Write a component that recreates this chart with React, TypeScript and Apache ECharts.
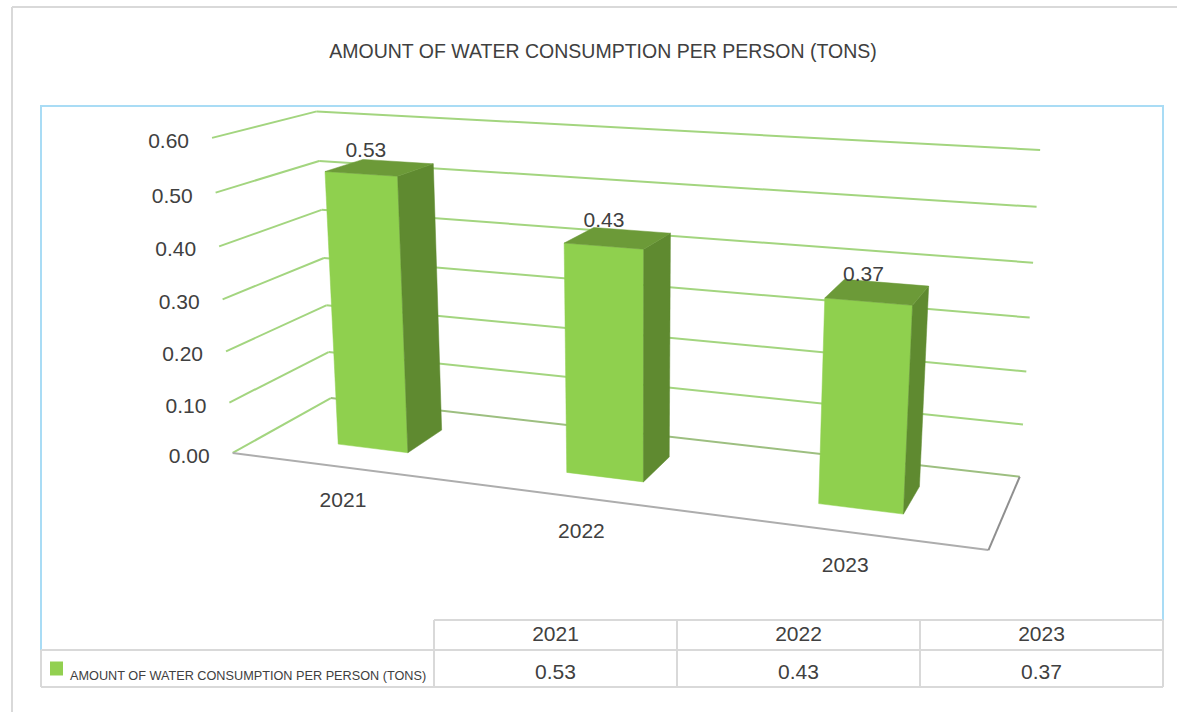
import React, { useEffect, useRef } from "react";
import * as echarts from "echarts";

const SERIES_NAME = "AMOUNT OF WATER CONSUMPTION PER PERSON (TONS)";
const categories = ["2021", "2022", "2023"];
const consumption = [0.53, 0.43, 0.37];
const tickValues = [0, 0.1, 0.2, 0.3, 0.4, 0.5, 0.6];

const FONT = '"Liberation Sans", Arial, sans-serif';
const TEXT = "#404040";
const GRID_LINE = "#a3d57f";
const FLOOR_BACK = "#9dbf80";
const FLOOR_FRONT = "#adadad";
const FLOOR_RIGHT = "#8f8f8f";
const TABLE_LINE = "#d9d9d9";
const PANEL_LINE = "#a9dcf5";
const FRONT = "#8fd04e";
const SIDE = "#5f8a30";
const TOP = "#6c9a38";

// Flat cartesian plane holding the scales; its points are then lifted into the box below.
const PLANE = { left: 100, top: 100, width: 900, height: 400 };

// Calibration of the oblique box: [across, up, depth, screenX, screenY].
const calibration = [
  [0, 0, 0, 232, 452], [0, 1 / 6, 0, 229, 403], [0, 2 / 6, 0, 226, 352], [0, 3 / 6, 0, 223, 300],
  [0, 4 / 6, 0, 219, 246], [0, 5 / 6, 0, 216, 193], [0, 1, 0, 212, 138],
  [0, 0, 1, 332, 398], [0, 1 / 6, 1, 328, 352], [0, 2 / 6, 1, 326, 305],
  [0, 5 / 6, 1, 319, 161], [0, 1, 1, 317, 111],
  [1, 0, 1, 1019, 477], [1, 1 / 6, 1, 1023, 425], [1, 2 / 6, 1, 1027, 372], [1, 3 / 6, 1, 1030, 318],
  [1, 4 / 6, 1, 1033, 263], [1, 5 / 6, 1, 1036, 207], [1, 1, 1, 1040, 149],
  [1, 0, 0, 989, 549],
];

// Least-squares fit of the 3D-to-screen projective map.
function solveProjection(rows: number[][]) {
  const n = 11;
  const A = Array.from({ length: n }, () => new Array(n + 1).fill(0));
  const add = (r: number[], b: number) => {
    for (let i = 0; i < n; i++) {
      for (let j = 0; j < n; j++) A[i][j] += r[i] * r[j];
      A[i][n] += r[i] * b;
    }
  };
  for (const [u, v, w, x, y] of rows) {
    add([u, v, w, 1, 0, 0, 0, 0, -x * u, -x * v, -x * w], x);
    add([0, 0, 0, 0, u, v, w, 1, -y * u, -y * v, -y * w], y);
  }
  for (let c = 0; c < n; c++) {
    let best = c;
    for (let r = c + 1; r < n; r++) if (Math.abs(A[r][c]) > Math.abs(A[best][c])) best = r;
    [A[c], A[best]] = [A[best], A[c]];
    for (let r = 0; r < n; r++) {
      if (r === c) continue;
      const f = A[r][c] / A[c][c];
      for (let k = c; k <= n; k++) A[r][k] -= f * A[c][k];
    }
  }
  return A.map((row, i) => row[n] / row[i]);
}

const P = solveProjection(calibration);
const project = (u: number, v: number, w: number): number[] => {
  const d = P[8] * u + P[9] * v + P[10] * w + 1;
  return [(P[0] * u + P[1] * v + P[2] * w + P[3]) / d, (P[4] * u + P[5] * v + P[6] * w + P[7]) / d];
};
const toBox = (pt: number[]) => [(pt[0] - PLANE.left) / PLANE.width, (PLANE.top + PLANE.height - pt[1]) / PLANE.height];

const BAR_HALF = 0.0525;
const DEPTH_FRONT = 0.305;
const DEPTH_BACK = 0.695;

function renderWall(_: any, api: any) {
  const value = api.value(1) as number;
  const [, v] = toBox(api.coord([0, value]));
  const a = project(0, v, 0), b = project(0, v, 1), c = project(1, v, 1);
  const stroke = (points: number[][], color: string) => ({
    type: "polyline", shape: { points }, style: { stroke: color, lineWidth: 2, fill: "none" },
  });
  const isFloor = value === 0;
  return {
    type: "group",
    children: [
      stroke([a, b], GRID_LINE),
      stroke([b, c], isFloor ? FLOOR_BACK : GRID_LINE),
      ...(isFloor ? [stroke([a, project(1, 0, 0)], FLOOR_FRONT), stroke([project(1, 0, 0), c], FLOOR_RIGHT)] : []),
      { type: "text", style: { text: value.toFixed(2), x: a[0] - 23, y: a[1] + 2.5, fill: TEXT, fontFamily: FONT, fontSize: 21, align: "right", verticalAlign: "middle" } },
    ],
  };
}

function renderBar(_: any, api: any) {
  const i = api.value(0) as number;
  const [uc, v] = toBox(api.coord([i, api.value(1)]));
  const l = uc - BAR_HALF, r = uc + BAR_HALF;
  const fb = [l, r].map((u) => project(u, 0, DEPTH_FRONT));
  const ft = [l, r].map((u) => project(u, v, DEPTH_FRONT));
  const bb = project(r, 0, DEPTH_BACK);
  const bt = [l, r].map((u) => project(u, v, DEPTH_BACK));
  const topCentre = project(uc, v, (DEPTH_FRONT + DEPTH_BACK) / 2);
  const base = project(uc, 0, 0);
  const face = (points: number[][], fill: string) => ({ type: "polygon", shape: { points }, style: { fill, stroke: fill, lineWidth: 0.5 } });
  const label = (text: string, x: number, y: number) => ({
    type: "text",
    style: { text, x, y, fill: TEXT, fontFamily: FONT, fontSize: 21, align: "center", verticalAlign: "middle" },
  });
  return {
    type: "group",
    children: [
      face([fb[0], fb[1], ft[1], ft[0]], FRONT),
      face([fb[1], bb, bt[1], ft[1]], SIDE),
      face([ft[0], ft[1], bt[1], bt[0]], TOP),
      label(consumption[i].toFixed(2), topCentre[0] - 14, topCentre[1] - 18.5),
      label(categories[i], base[0] - 0.5, base[1] + 32.5),
    ],
  };
}

// Page frame, chart panel and the data table under the plot.
function tableGraphics() {
  const cols = [434, 677, 920, 1163];
  const line = (x1: number, y1: number, x2: number, y2: number) => ({
    type: "line", shape: { x1, y1, x2, y2 }, style: { stroke: TABLE_LINE, lineWidth: 2 },
  });
  const cell = (text: string, x: number, y: number) => ({
    type: "text", style: { text, x, y, fill: TEXT, font: `21px ${FONT}`, align: "center", verticalAlign: "middle" },
  });
  const out: any[] = [
    line(12, 7, 1177, 7), line(12, 7, 12, 712),
    { type: "polyline", shape: { points: [[41, 650], [41, 106], [1163, 106], [1163, 620]] }, style: { stroke: PANEL_LINE, lineWidth: 2, fill: "none" } },
    line(434, 620, 1163, 620), line(41, 650, 1163, 650), line(41, 687, 1163, 687), line(41, 650, 41, 687),
  ];
  cols.forEach((x) => out.push(line(x, 620, x, 687)));
  categories.forEach((c, i) => {
    const x = (cols[i] + cols[i + 1]) / 2;
    out.push(cell(c, x, 633.5));
    out.push(cell(consumption[i].toFixed(2), x, 671.5));
  });
  return out;
}

export default function App() {
  const ref = useRef<HTMLDivElement>(null);
  useEffect(() => {
    const chart = echarts.init(ref.current!, undefined, { renderer: "svg" });
    chart.setOption({
      animation: false,
      backgroundColor: "#ffffff",
      title: {
        text: SERIES_NAME,
        left: 603, top: 41, padding: 0, textAlign: "center",
        textStyle: { fontFamily: FONT, fontSize: 19.5, fontWeight: "normal", color: TEXT },
      },
      legend: {
        left: 50, top: 661.5, padding: 0, itemWidth: 13, itemHeight: 14, itemGap: 0, icon: "rect",
        data: [SERIES_NAME],
        formatter: (name: string) => `{a|${name}}`,
        textStyle: {
          rich: { a: { fontFamily: FONT, fontSize: 12.7, color: TEXT, padding: [14, 0, 0, 2] } },
        },
      },
      grid: PLANE,
      xAxis: { type: "category", data: categories, show: false },
      yAxis: { type: "value", min: 0, max: 0.6, interval: 0.1, show: false },
      graphic: tableGraphics(),
      series: [
        { type: "custom", name: "walls", z: 1, clip: false, encode: { x: 0, y: 1 }, data: tickValues.map((t) => [0, t]), renderItem: renderWall },
        { type: "custom", name: SERIES_NAME, z: 2, clip: false, encode: { x: 0, y: 1 }, itemStyle: { color: "#92d050" }, data: consumption.map((c, i) => [i, c]), renderItem: renderBar },
      ],
    });
    return () => chart.dispose();
  }, []);
  return <div ref={ref} style={{ position: "absolute", left: 0, top: 0, width: 1177, height: 712 }} />;
}
